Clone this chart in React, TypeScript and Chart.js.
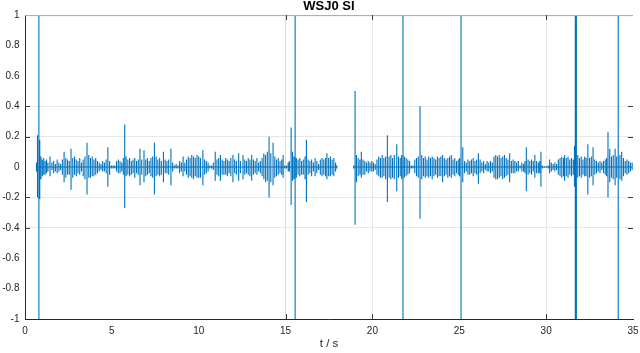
import React, { useEffect, useRef } from 'react';
import { Chart, registerables } from 'chart.js';

Chart.register(...registerables);

const TITLE = 'WSJ0 SI';
const X_LABEL = 't / s';
const X_TICKS = [0, 5, 10, 15, 20, 25, 30, 35];
const Y_TICKS = [-1, -0.8, -0.6, -0.4, -0.2, 0, 0.2, 0.4, 0.6, 0.8, 1];
const X_GRID_SHOWN = [15, 20, 30];
const Y_GRID_SHOWN = [-0.4, -0.2, 0.2, 0.4];

// sample times (s) and the waveform's upper / lower excursion
const T = [
  0.66, 0.72, 0.8, 0.85, 0.92, 1.0, 1.08, 1.16, 1.24, 1.32,
  1.44, 1.55, 1.65, 1.75, 1.85, 1.95, 2.05, 2.15, 2.25, 2.35,
  2.45, 2.55, 2.65, 2.75, 2.85, 2.95, 3.05, 3.15, 3.25, 3.35,
  3.45, 3.57, 3.67, 3.77, 3.87, 3.97, 4.07, 4.17, 4.27, 4.37,
  4.47, 4.57, 4.67, 4.77, 4.87, 4.97, 5.07, 5.17, 5.27, 5.37,
  5.47, 5.57, 5.66, 5.74, 5.82, 5.92, 6.02, 6.12, 6.22, 6.32,
  6.42, 6.52, 6.62, 6.72, 6.85, 6.95, 7.05, 7.15, 7.25, 7.35,
  7.45, 7.55, 7.65, 7.75, 7.85, 7.97, 8.07, 8.17, 8.27, 8.4,
  8.5, 8.6, 8.7, 8.8, 8.9, 9.0, 9.1, 9.2, 9.3, 9.4,
  9.5, 9.6, 9.7, 9.8, 9.9, 10.0, 10.1, 10.24, 10.34, 10.44,
  10.54, 10.64, 10.74, 10.84, 10.95, 11.05, 11.15, 11.25, 11.35, 11.45,
  11.55, 11.65, 11.75, 11.85, 11.97, 12.07, 12.17, 12.3, 12.4, 12.55,
  12.65, 12.75, 12.85, 12.95, 13.05, 13.15, 13.25, 13.35, 13.45, 13.55,
  13.65, 13.75, 13.85, 13.95, 14.05, 14.15, 14.28, 14.38, 14.48, 14.58,
  14.68, 14.78, 14.86, 14.95, 15.05, 15.15, 15.22, 15.32, 15.4, 15.48,
  15.55, 15.62, 15.72, 15.82, 15.92, 16.02, 16.12, 16.2, 16.3, 16.4,
  16.5, 16.6, 16.7, 16.8, 16.9, 17.0, 17.1, 17.2, 17.3, 17.38,
  17.48, 17.58, 17.68, 17.78, 17.88, 17.95, 18.4, 18.92, 19.0, 19.08,
  19.18, 19.28, 19.36, 19.46, 19.56, 19.66, 19.76, 19.86, 19.96, 20.06,
  20.16, 20.26, 20.36, 20.46, 20.56, 20.66, 20.76, 20.86, 20.96, 21.06,
  21.16, 21.26, 21.4, 21.5, 21.6, 21.68, 21.76, 21.84, 21.94, 22.04,
  22.14, 22.24, 22.34, 22.44, 22.54, 22.64, 22.74, 22.84, 22.94, 23.04,
  23.14, 23.24, 23.34, 23.44, 23.54, 23.64, 23.74, 23.84, 23.94, 24.04,
  24.14, 24.24, 24.34, 24.44, 24.54, 24.64, 24.74, 24.84, 24.94, 25.02,
  25.1, 25.2, 25.3, 25.4, 25.5, 25.6, 25.7, 25.8, 25.9, 26.0,
  26.1, 26.2, 26.3, 26.4, 26.5, 26.6, 26.7, 26.8, 26.9, 27.0,
  27.1, 27.2, 27.3, 27.4, 27.5, 27.6, 27.7, 27.8, 27.9, 28.0,
  28.1, 28.2, 28.3, 28.4, 28.5, 28.6, 28.7, 28.78, 28.86, 28.96,
  29.06, 29.16, 29.26, 29.35, 29.45, 29.55, 29.63, 29.7, 29.78, 29.9,
  30.02, 30.12, 30.2, 30.3, 30.4, 30.5, 30.6, 30.7, 30.8, 30.9,
  31.0, 31.06, 31.16, 31.26, 31.36, 31.46, 31.56, 31.63, 31.68, 31.74,
  31.82, 31.92, 32.02, 32.12, 32.22, 32.3, 32.4, 32.5, 32.6, 32.7,
  32.8, 32.9, 33.0, 33.1, 33.2, 33.3, 33.4, 33.48, 33.56, 33.66,
  33.76, 33.86, 33.97, 34.06, 34.15, 34.25, 34.35, 34.45, 34.55, 34.65,
  34.75, 34.85, 34.95,
];

const UP = [
  0.03, 0.21, 1, 0.18, 0.07, 0.05, 0.06, 0.04, 0.05, 0.03,
  0.07, 0.03, 0.04, 0.02, 0.05, 0.03, 0.02, 0.05, 0.1, 0.06,
  0.05, 0.04, 0.12, 0.06, 0.07, 0.05, 0.04, 0.06, 0.03, 0.05,
  0.07, 0.16, 0.08, 0.06, 0.07, 0.05, 0.06, 0.04, 0.03, 0.02,
  0.04, 0.03, 0.05, 0.13, 0.04, 0.01, 0.01, 0.01, 0.04, 0.05,
  0.04, 0.03, 0.06, 0.28, 0.07, 0.05, 0.06, 0.04, 0.05, 0.06,
  0.04, 0.05, 0.12, 0.05, 0.11, 0.05, 0.06, 0.04, 0.06, 0.07,
  0.16, 0.07, 0.05, 0.06, 0.04, 0.1, 0.05, 0.04, 0.05, 0.12,
  0.03, 0.01, 0.02, 0.01, 0.04, 0.03, 0.07, 0.03, 0.05, 0.07,
  0.06, 0.08, 0.07, 0.06, 0.08, 0.07, 0.06, 0.11, 0.05, 0.04,
  0.03, 0.01, 0.01, 0.03, 0.1, 0.05, 0.06, 0.08, 0.05, 0.04,
  0.06, 0.05, 0.04, 0.06, 0.08, 0.05, 0.04, 0.09, 0.04, 0.08,
  0.05, 0.04, 0.06, 0.05, 0.08, 0.05, 0.04, 0.06, 0.03, 0.04,
  0.06, 0.09, 0.08, 0.1, 0.2, 0.09, 0.16, 0.07, 0.05, 0.06,
  0.04, 0.05, 0.08, 0.01, 0.01, 0.03, 0.04, 0.26, 0.1, 0.07,
  1, 0.06, 0.05, 0.06, 0.04, 0.05, 0.07, 0.18, 0.05, 0.04,
  0.05, 0.03, 0.06, 0.04, 0.02, 0.05, 0.06, 0.05, 0.06, 0.09,
  0.06, 0.07, 0.05, 0.06, 0.03, 0.01, null, 0.01, 0.5, 0.08,
  0.06, 0.05, 0.1, 0.05, 0.04, 0.03, 0.04, 0.03, 0.04, 0.03,
  0.02, 0.05, 0.07, 0.06, 0.08, 0.06, 0.07, 0.21, 0.07, 0.08,
  0.06, 0.08, 0.15, 0.07, 0.06, 0.08, 1, 0.07, 0.06, 0.05,
  0.04, 0.01, 0.01, 0.05, 0.06, 0.07, 0.4, 0.08, 0.06, 0.07,
  0.05, 0.07, 0.06, 0.07, 0.06, 0.05, 0.07, 0.06, 0.07, 0.08,
  0.06, 0.05, 0.06, 0.07, 0.08, 0.05, 0.06, 0.04, 0.05, 0.06,
  1, 0.13, 0.04, 0.03, 0.05, 0.04, 0.05, 0.06, 0.04, 0.05,
  0.09, 0.05, 0.03, 0.04, 0.02, 0.04, 0.03, 0.04, 0.03, 0.07,
  0.08, 0.07, 0.08, 0.06, 0.07, 0.08, 0.06, 0.05, 0.09, 0.04,
  0.05, 0.04, 0.03, 0.04, 0.01, 0.03, 0.02, 0.04, 0.13, 0.05,
  0.04, 0.05, 0.04, 0.08, 0.04, 0.03, 0.04, 0.1, 0.01, 0.005,
  0.005, 0.01, 0.05, 0.03, 0.02, 0.03, 0.02, 0.05, 0.06, 0.07,
  0.06, 0.08, 0.06, 0.07, 0.05, 0.06, 0.05, 0.14, 1, 1,
  0.08, 0.06, 0.07, 0.05, 0.07, 0.06, 0.15, 0.06, 0.07, 0.13,
  0.05, 0.04, 0.03, 0.04, 0.03, 0.04, 0.05, 0.06, 0.23, 0.12,
  0.07, 0.08, 0.12, 0.07, 1, 0.08, 0.1, 0.06, 0.04, 0.05,
  0.04, 0.03, 0.03,
];

const DN = [
  -0.03, -0.2, -1, -0.21, -0.08, -0.06, -0.05, -0.05, -0.04, -0.03,
  -0.06, -0.02, -0.04, -0.03, -0.04, -0.03, -0.02, -0.05, -0.1, -0.07,
  -0.05, -0.05, -0.15, -0.07, -0.05, -0.06, -0.04, -0.05, -0.03, -0.06,
  -0.08, -0.18, -0.07, -0.07, -0.06, -0.06, -0.05, -0.04, -0.03, -0.02,
  -0.03, -0.03, -0.04, -0.13, -0.05, -0.01, -0.01, -0.01, -0.03, -0.04,
  -0.04, -0.03, -0.05, -0.27, -0.06, -0.05, -0.06, -0.05, -0.04, -0.07,
  -0.04, -0.05, -0.12, -0.05, -0.1, -0.06, -0.05, -0.04, -0.06, -0.07,
  -0.18, -0.06, -0.05, -0.06, -0.05, -0.1, -0.04, -0.04, -0.05, -0.12,
  -0.03, -0.01, -0.01, -0.01, -0.04, -0.03, -0.06, -0.03, -0.05, -0.07,
  -0.06, -0.07, -0.08, -0.06, -0.07, -0.07, -0.07, -0.12, -0.05, -0.04,
  -0.03, -0.01, -0.01, -0.02, -0.09, -0.05, -0.06, -0.09, -0.05, -0.05,
  -0.05, -0.06, -0.04, -0.06, -0.1, -0.04, -0.05, -0.09, -0.04, -0.08,
  -0.05, -0.04, -0.05, -0.06, -0.09, -0.05, -0.04, -0.05, -0.03, -0.04,
  -0.06, -0.08, -0.1, -0.09, -0.2, -0.1, -0.12, -0.07, -0.06, -0.05,
  -0.04, -0.05, -0.07, -0.01, -0.01, -0.03, -0.03, -0.25, -0.09, -0.08,
  -1, -0.07, -0.05, -0.06, -0.05, -0.05, -0.08, -0.23, -0.05, -0.04,
  -0.06, -0.03, -0.06, -0.04, -0.02, -0.05, -0.06, -0.05, -0.06, -0.08,
  -0.06, -0.06, -0.05, -0.06, -0.03, -0.01, null, -0.01, -0.38, -0.1,
  -0.06, -0.05, -0.07, -0.05, -0.05, -0.03, -0.04, -0.03, -0.03, -0.03,
  -0.02, -0.05, -0.06, -0.07, -0.07, -0.06, -0.08, -0.23, -0.07, -0.08,
  -0.07, -0.08, -0.16, -0.07, -0.06, -0.08, -1, -0.07, -0.06, -0.05,
  -0.04, -0.01, -0.01, -0.04, -0.06, -0.07, -0.34, -0.08, -0.06, -0.07,
  -0.06, -0.07, -0.06, -0.08, -0.06, -0.05, -0.07, -0.06, -0.06, -0.1,
  -0.06, -0.05, -0.07, -0.06, -0.07, -0.05, -0.06, -0.04, -0.05, -0.06,
  -1, -0.1, -0.04, -0.03, -0.05, -0.05, -0.04, -0.06, -0.04, -0.05,
  -0.11, -0.04, -0.03, -0.04, -0.02, -0.03, -0.03, -0.04, -0.03, -0.07,
  -0.08, -0.08, -0.07, -0.06, -0.08, -0.07, -0.06, -0.05, -0.1, -0.04,
  -0.04, -0.04, -0.03, -0.03, -0.01, -0.03, -0.03, -0.04, -0.16, -0.05,
  -0.04, -0.05, -0.03, -0.07, -0.04, -0.04, -0.04, -0.13, -0.01, -0.005,
  -0.005, -0.01, -0.04, -0.03, -0.02, -0.03, -0.02, -0.05, -0.06, -0.07,
  -0.06, -0.09, -0.06, -0.07, -0.05, -0.06, -0.05, -0.13, -1, -1,
  -0.07, -0.06, -0.07, -0.05, -0.06, -0.06, -0.18, -0.07, -0.06, -0.12,
  -0.05, -0.04, -0.03, -0.04, -0.02, -0.04, -0.05, -0.06, -0.2, -0.1,
  -0.07, -0.08, -0.12, -0.07, -1, -0.08, -0.09, -0.06, -0.04, -0.05,
  -0.04, -0.03, -0.02,
];

const FONT = 'Liberation Sans, Arial, Helvetica, sans-serif';
const AXIS_COLOR = '#262626';
const WAVE_COLOR = '#0072BD';

const near = (v: number, list: number[]) => list.some((w) => Math.abs(w - v) < 1e-6);

const framePlugin = {
  id: 'matlabFrame',
  afterDraw(chart: any) {
    const { ctx, chartArea, scales } = chart;
    const { left, right, top, bottom } = chartArea;
    ctx.save();
    ctx.lineWidth = 1;
    ctx.strokeStyle = '#a8a8a8';
    ctx.beginPath();
    ctx.moveTo(left, top + 0.5);
    ctx.lineTo(right, top + 0.5);
    ctx.stroke();
    ctx.strokeStyle = '#3a3a3a';
    ctx.beginPath();
    X_GRID_SHOWN.forEach((v) => {
      const px = Math.round(scales.x.getPixelForValue(v)) + 0.5;
      ctx.moveTo(px, bottom);
      ctx.lineTo(px, bottom - 5);
      ctx.moveTo(px, top);
      ctx.lineTo(px, top + 5);
    });
    Y_GRID_SHOWN.forEach((v) => {
      const py = Math.round(scales.y.getPixelForValue(v)) + 0.5;
      ctx.moveTo(left, py);
      ctx.lineTo(left + 5, py);
      ctx.moveTo(right, py);
      ctx.lineTo(right - 5, py);
    });
    ctx.stroke();
    ctx.restore();
  },
};

export default function App() {
  const canvasRef = useRef<HTMLCanvasElement | null>(null);

  useEffect(() => {
    const canvas = canvasRef.current;
    if (!canvas) return;
    // each sample becomes a vertical stroke from its lower to its upper excursion,
    // joined to the next one along the zero line
    const points: { x: number; y: number | null }[] = [];
    T.forEach((t, i) => {
      if (UP[i] === null || DN[i] === null) {
        points.push({ x: t, y: null });
        return;
      }
      points.push({ x: t, y: 0 });
      points.push({ x: t, y: UP[i] as number });
      points.push({ x: t, y: DN[i] as number });
      points.push({ x: t, y: 0 });
    });

    const chart = new Chart(canvas, {
      type: 'line',
      data: {
        datasets: [
          {
            data: points,
            borderColor: WAVE_COLOR,
            backgroundColor: WAVE_COLOR,
            borderWidth: 1.1,
            borderJoinStyle: 'bevel',
            borderCapStyle: 'butt',
            pointRadius: 0,
            tension: 0,
            spanGaps: false,
            fill: false,
          },
        ],
      },
      options: {
        responsive: false,
        animation: false,
        events: [],
        layout: { padding: { left: 0, right: 7, top: 0, bottom: 0 } },
        plugins: {
          legend: { display: false },
          tooltip: { enabled: false },
          title: {
            display: true,
            text: TITLE,
            fullSize: false,
            color: '#000000',
            font: { family: FONT, size: 13, weight: 'bold' },
            padding: { top: -1.5, bottom: 1 },
          },
        },
        scales: {
          x: {
            type: 'linear',
            min: 0,
            max: 35,
            afterBuildTicks: (scale: any) => {
              scale.ticks = X_TICKS.map((v) => ({ value: v }));
            },
            afterFit: (scale: any) => {
              scale.height = 34;
              scale.paddingLeft = 0;
              scale.paddingRight = 0;
            },
            ticks: {
              color: AXIS_COLOR,
              font: { family: FONT, size: 10 },
              padding: 6,
              maxRotation: 0,
              autoSkip: false,
              callback: (v: any) => String(v),
            },
            grid: {
              drawTicks: false,
              color: (ctx: any) =>
                ctx.tick && near(ctx.tick.value, X_GRID_SHOWN)
                  ? ctx.tick.value === 15
                    ? '#dcdcdc'
                    : '#e8e8e8'
                  : 'rgba(0,0,0,0)',
            },
            border: { display: true, color: AXIS_COLOR, width: 1 },
            title: {
              display: true,
              text: X_LABEL,
              color: AXIS_COLOR,
              font: { family: FONT, size: 11.5 },
              padding: { top: 3, bottom: 2.5 },
            },
          },
          y: {
            type: 'linear',
            min: -1,
            max: 1,
            afterBuildTicks: (scale: any) => {
              scale.ticks = Y_TICKS.map((v) => ({ value: v }));
            },
            afterFit: (scale: any) => {
              scale.width = 25;
              scale.paddingTop = 0;
              scale.paddingBottom = 0;
            },
            ticks: {
              color: AXIS_COLOR,
              font: { family: FONT, size: 10 },
              padding: 5.5,
              autoSkip: false,
              callback: (v: any) => String(Math.round(Number(v) * 10) / 10),
            },
            grid: {
              drawTicks: false,
              color: (ctx: any) =>
                ctx.tick && near(ctx.tick.value, Y_GRID_SHOWN) ? '#e6e6e6' : 'rgba(0,0,0,0)',
            },
            border: { display: true, color: AXIS_COLOR, width: 1 },
          },
        },
      },
      plugins: [framePlugin],
    } as any);

    return () => chart.destroy();
  }, []);

  return (
    <div style={{ position: 'fixed', left: 0, top: 0, width: 640, height: 353, background: '#ffffff' }}>
      <canvas ref={canvasRef} width={640} height={353} style={{ display: 'block', width: 640, height: 353 }} />
    </div>
  );
}
